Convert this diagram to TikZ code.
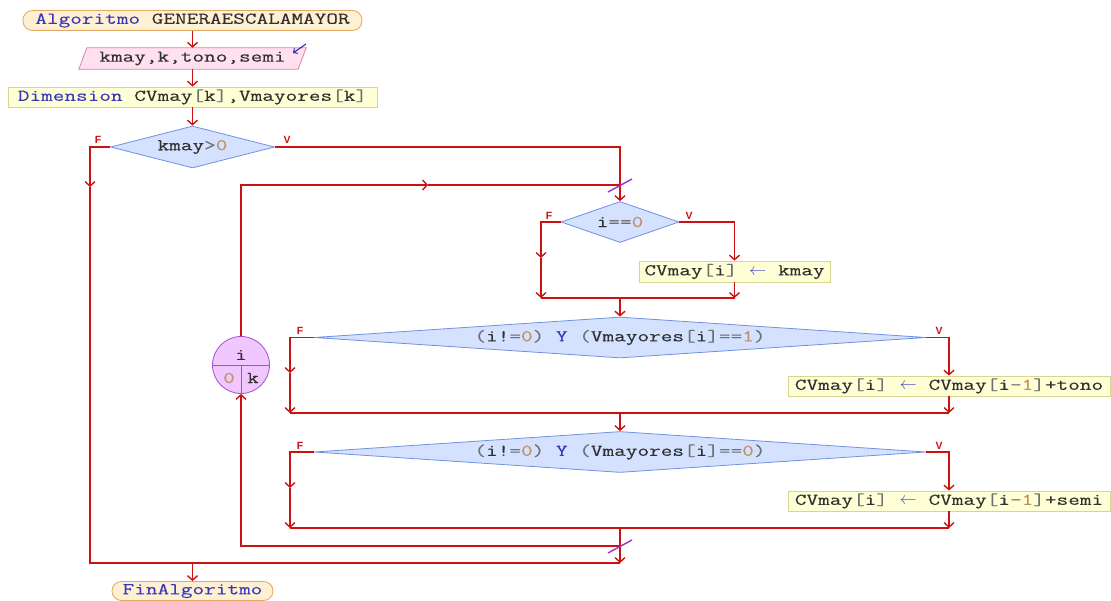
\documentclass[tikz,border=0pt]{standalone}
\usepackage{fontspec}
\usetikzlibrary{arrows.meta,shapes.geometric,backgrounds,calc}
\newfontfamily\psf[FakeStretch=1.37,FakeBold=0.18]{Latin Modern Mono}
\newfontfamily\lblf{Liberation Sans}
\definecolor{flowc}{HTML}{CC1111}
\definecolor{kwc}{HTML}{3838B8}
\definecolor{idc}{HTML}{303030}
\definecolor{nmc}{HTML}{C09060}
\definecolor{opc}{HTML}{707070}
\definecolor{arc}{HTML}{5050C8}
\definecolor{termf}{HTML}{FFF0D4}
\definecolor{termd}{HTML}{E0A860}
\definecolor{inf}{HTML}{FFE0EE}
\definecolor{ind}{HTML}{E080B0}
\definecolor{boxf}{HTML}{FFFFD6}
\definecolor{boxd}{HTML}{D6D690}
\definecolor{diaf}{HTML}{D4E2FF}
\definecolor{diad}{HTML}{7090E0}
\definecolor{cirf}{HTML}{F0C8FF}
\definecolor{cird}{HTML}{A050D0}
\definecolor{slashc}{HTML}{9933CC}
\definecolor{bluec}{HTML}{2020A0}
\newcommand{\psKw}[1]{\textcolor{kwc}{#1}}
\newcommand{\psNm}[1]{\textcolor{nmc}{#1}}
\newcommand{\psOp}[1]{\textcolor{opc}{#1}}
\newcommand{\psAr}{\textcolor{arc}{\ensuremath{\leftarrow}}}
\tikzset{
  txt/.style={font=\psf\fontsize{16.5}{18}\selectfont, text=idc, inner sep=0pt},
  term/.style={txt, draw=termd, fill=termf, line width=0.8pt, rounded corners=9.5pt, minimum height=20pt},
  inbox/.style={draw=ind, fill=inf, line width=0.8pt},
  procbox/.style={txt, draw=boxd, fill=boxf, line width=0.8pt, minimum height=20pt},
  dia/.style={txt, diamond, draw=diad, fill=diaf, line width=0.8pt},
  loopc/.style={circle, draw=cird, fill=cirf, line width=0.8pt, minimum size=57pt, inner sep=0pt},
  cdiv/.style={draw=cird, line width=0.8pt},
  flow/.style={draw=flowc, line width=1.4pt, -{Straight Barb[length=4.5pt,width=10pt]}},
  line/.style={draw=flowc, line width=1.4pt},
  slash/.style={draw=slashc, line width=1.4pt},
  bluearr/.style={draw=bluec, line width=1pt, -{Straight Barb[length=3pt,width=6pt]}},
  lbl/.style={font=\lblf\bfseries\fontsize{10.5}{11}\selectfont, text=flowc, inner sep=0pt},
}
\begin{document}
\begin{tikzpicture}[x=1pt,y=-1pt]
\useasboundingbox (0,0) rectangle (1111,601);
% nodes
\node[term, minimum width=339pt] (start) at (192.5,20.5) {\psKw{Algoritmo} GENERAESCALAMAYOR};
\node[txt, minimum width=219pt, minimum height=21pt] (in) at (192.5,58.5) {kmay,k,tono,semi};
\begin{scope}[on background layer]
\filldraw[inbox] ([xshift=-4pt]in.south west) -- ([xshift=4pt]in.north west) -- ([xshift=4pt]in.north east) -- ([xshift=-4pt]in.south east) -- cycle;
\end{scope}
\node[procbox, minimum width=369pt] (dim) at (192.5,97) {\psKw{Dimension} CVmay\psOp{[}k\psOp{]},Vmayores\psOp{[}k\psOp{]}};
\node[dia, aspect=4, minimum width=164pt, minimum height=42pt] (d1) at (192.5,147) {kmay\psOp{>}\psNm{0}};
\node[dia, aspect=3, minimum width=118pt, minimum height=41pt] (d2) at (620,222) {i\psOp{==}\psNm{0}};
\node[procbox, minimum width=191pt, minimum height=21pt] (r1) at (734.5,271.5) {CVmay\psOp{[}i\psOp{]} \psAr{} kmay};
\node[dia, aspect=15, minimum width=612pt, minimum height=41pt] (d3) at (620,337.5) {\psOp{(}i!\psOp{=}\psNm{0}\psOp{)} \psKw{Y} \psOp{(}Vmayores\psOp{[}i\psOp{]}\psOp{==}\psNm{1}\psOp{)}};
\node[procbox, minimum width=322pt] (r2) at (949,386) {CVmay\psOp{[}i\psOp{]} \psAr{} CVmay\psOp{[}i\psOp{-}\psNm{1}\psOp{]}+tono};
\node[dia, aspect=15, minimum width=612pt, minimum height=41pt] (d4) at (620,452) {\psOp{(}i!\psOp{=}\psNm{0}\psOp{)} \psKw{Y} \psOp{(}Vmayores\psOp{[}i\psOp{]}\psOp{==}\psNm{0}\psOp{)}};
\node[procbox, minimum width=322pt] (r3) at (949,501) {CVmay\psOp{[}i\psOp{]} \psAr{} CVmay\psOp{[}i\psOp{-}\psNm{1}\psOp{]}+semi};
\node[loopc] (c) at (241,365) {};
\draw[cdiv] (c.west) -- (c.east);
\draw[cdiv] (c.center) -- (c.south);
\node[txt] (ci) at (241,355) {i};
\node[txt] (c0) at (229,378) {\psNm{0}};
\node[txt] (ck) at (253,378) {k};
\node[term, minimum width=161pt, minimum height=19pt] (end) at (192.5,591) {\psKw{FinAlgoritmo}};
% labels
\node[lbl] (F1) at (98,139.5) {F};
\node[lbl] (V1) at (287,139.5) {V};
\node[lbl] (F2) at (549,215.5) {F};
\node[lbl] (V2) at (689,215.5) {V};
\node[lbl] (F3) at (300,330.5) {F};
\node[lbl] (V3) at (939,330.5) {V};
\node[lbl] (F4) at (300,445.5) {F};
\node[lbl] (V4) at (939,445.5) {V};
% coordinates
\coordinate (a1) at (90,187);
\coordinate (m0L) at (90,563);
\coordinate (m0) at (620,563);
\coordinate (mE) at (192.5,563);
\coordinate (L2) at (428,185);
\coordinate (L3) at (620,185);
\coordinate (f2a) at (541,258);
\coordinate (f2b) at (541,298);
\coordinate (v2b) at (734.5,298);
\coordinate (j2) at (620,298);
\coordinate (f3a) at (290,373);
\coordinate (f3b) at (290,413);
\coordinate (v3b) at (949,413);
\coordinate (j3) at (620,413);
\coordinate (f4a) at (290,488);
\coordinate (f4b) at (290,528);
\coordinate (v4b) at (949,528);
\coordinate (j4) at (620,528);
\coordinate (R1) at (620,546);
\coordinate (ba1) at (306,44);
\coordinate (ba2) at (293,53);
% connectors
\draw[flow] (start.south) -- (in.north);
\draw[flow] (in.south) -- (dim.north);
\draw[flow] (dim.south) -- (d1.north);
\draw[flow] (d1.west) -| (a1);
\draw[line] (a1) -- (m0L) -- (m0);
\draw[flow] (d1.east) -| (d2.north);
\draw[flow] (c.north) |- (L2);
\draw[line] (L2) -- (L3);
\draw[slash] ($(L3)+(-12,7)$) -- ($(L3)+(12,-6)$);
\draw[flow] (d2.west) -| (f2a);
\draw[flow] (f2a) -- (f2b);
\draw[flow] (d2.east) -| (r1.north);
\draw[flow] (r1.south) -- (v2b);
\draw[line] (f2b) -- (v2b);
\draw[flow] (j2) -- (d3.north);
\draw[flow] (d3.west) -| (f3a);
\draw[flow] (f3a) -- (f3b);
\draw[flow] (d3.east) -| (r2.north);
\draw[flow] (r2.south) -- (v3b);
\draw[line] (f3b) -- (v3b);
\draw[flow] (j3) -- (d4.north);
\draw[flow] (d4.west) -| (f4a);
\draw[flow] (f4a) -- (f4b);
\draw[flow] (d4.east) -| (r3.north);
\draw[flow] (r3.south) -- (v4b);
\draw[line] (f4b) -- (v4b);
\draw[flow] (j4) -- (m0);
\draw[flow] (R1) -| (c.south);
\draw[slash] ($(R1)+(-12,7)$) -- ($(R1)+(12,-6)$);
\draw[flow] (mE) -- (end.north);
\draw[bluearr] (ba1) -- (ba2);
\end{tikzpicture}
\end{document}
